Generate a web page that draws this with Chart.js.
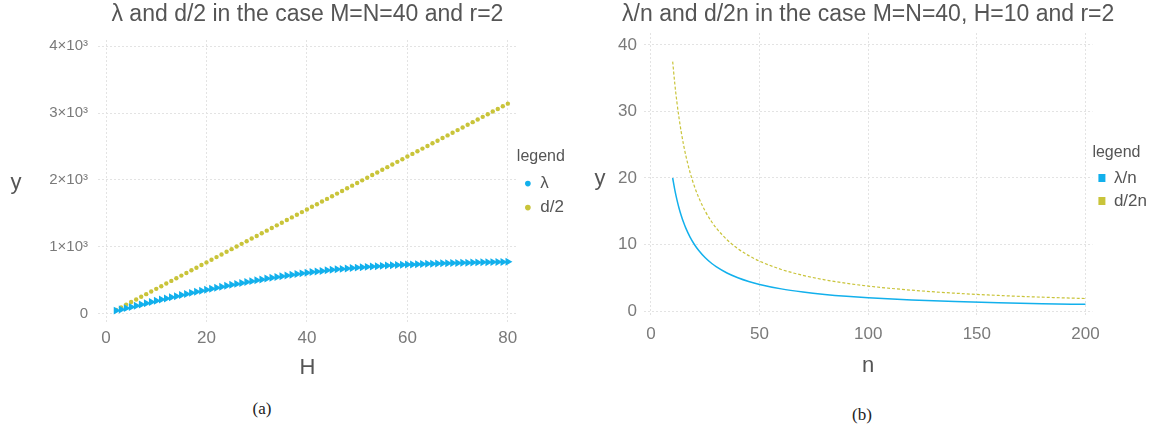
<!DOCTYPE html>
<html><head><meta charset="utf-8">
<script src="https://cdn.jsdelivr.net/npm/chart.js@4.4.1/dist/chart.umd.min.js"></script>
<style>
html,body{margin:0;padding:0;background:#fff;width:1157px;height:434px;overflow:hidden;}
.box{position:absolute;top:0;height:390px;}
#wa{left:0;width:580px;}
#wb{left:580px;width:577px;}
.cap{position:absolute;font-family:"Liberation Serif","DejaVu Serif",serif;font-size:17px;color:#222;transform:translate(-50%,-50%);}
</style></head><body>
<div class="box" id="wa"><canvas id="ca" width="580" height="390"></canvas></div>
<div class="box" id="wb"><canvas id="cb" width="577" height="390"></canvas></div>
<div class="cap" style="left:262px;top:409px">(a)</div>
<div class="cap" style="left:862px;top:415px">(b)</div>
<script>
// ---- data (left panel) ----
const H = [2,3,4,5,6,7,8,9,10,11,12,13,14,15,16,17,18,19,20,21,22,23,24,25,26,27,28,29,30,31,32,33,34,35,36,37,38,39,40,41,42,43,44,45,46,47,48,49,50,51,52,53,54,55,56,57,58,59,60,61,62,63,64,65,66,67,68,69,70,71,72,73,74,75,76,77,78,79,80];
const lambdaH = [50,68,87,105,124,142,161,180,198,
  215,232,249,266,283,299,315,331,347,362,
  377,392,407,421,435,449,463,477,490,503,
  516,529,541,553,564,575,586,596,606,616,
  625,634,643,651,659,666,673,680,686,692,
  698,703,708,713,718,722,726,730,734,737,
  740,743,746,749,751,754,756,758,760,762,
  764,766,768,770,771,773,774,776,777,778];
const dHalf = [59,98.5,138,177.5,217,256.5,296,335.5,375,
  414.5,454,493.5,533,572.5,612,651.5,691,730.5,770,
  809.5,849,888.5,928,967.5,1007,1046.5,1086,1125.5,1165,
  1204.5,1244,1283.5,1323,1362.5,1402,1441.5,1481,1520.5,1560,
  1599.5,1639,1678.5,1718,1757.5,1797,1836.5,1876,1915.5,1955,
  1994.5,2034,2073.5,2113,2152.5,2192,2231.5,2271,2310.5,2350,
  2389.5,2429,2468.5,2508,2547.5,2587,2626.5,2666,2705.5,2745,
  2784.5,2824,2863.5,2903,2942.5,2982,3021.5,3061,3100.5,3140];
const seriesNamesA = ['λ','d/2'];
const xTicksA = [0,20,40,60,80];
const yTicksA = [0,1000,2000,3000,4000];
const yTickLabelsA = ['0','1×10³','2×10³','3×10³','4×10³'];
const titleA = 'λ and d/2 in the case M=N=40 and r=2';

// ---- data (right panel) ----
const nVals = [10,11,12,13,14,15,16,18,20,22,25,28,30,35,40,45,50,60,70,80,90,100,120,140,160,180,200];
const lambdaN = [20,18.18,16.67,15.38,14.29,13.33,12.5,11.11,10,9.09,8,7.14,6.67,5.71,5,4.44,4,3.33,2.86,2.5,2.22,2,1.67,1.43,1.25,1.11,1];
const dHalfN = [37.5,34.09,31.25,28.85,26.79,25,23.44,20.83,18.75,17.05,15,13.39,12.5,10.71,9.38,8.33,7.5,6.25,5.36,4.69,4.17,3.75,3.13,2.68,2.34,2.08,1.88];
const seriesNamesB = ['λ/n','d/2n'];
const xTicksB = [0,50,100,150,200];
const yTicksB = [0,10,20,30,40];
const titleB = 'λ/n and d/2n in the case M=N=40, H=10 and r=2';

const FAM = '"Liberation Sans", Arial, Helvetica, sans-serif';
Chart.defaults.font.family = FAM;
const BLUE = '#12b0ec';
const YEL = '#c9c43a';
const GRID = '#e3e3e3';
const TICK = '#7a7a7a';
const TXT = '#555555';

const textPlugin = {
  id: 'textPlugin',
  afterDraw(chart, args, o) {
    const {ctx, chartArea} = chart;
    ctx.save();
    ctx.fillStyle = TXT;
    ctx.textAlign = 'center';
    ctx.textBaseline = 'middle';
    ctx.font = '23px ' + FAM;
    ctx.fillText(o.title, (chartArea.left + chartArea.right) / 2, o.titleY);
    ctx.font = '22px ' + FAM;
    ctx.fillText('y', o.yX, o.yY);
    ctx.restore();
  }
};

function pts(xs, ys) { return xs.map((x, i) => ({x: x, y: ys[i]})); }

new Chart(document.getElementById('ca'), {
  type: 'line',
  data: {
    datasets: [
      {label: seriesNamesA[0], data: pts(H, lambdaH), showLine: false,
       backgroundColor: BLUE, borderColor: BLUE, pointStyle: 'triangle', pointRotation: 90,
       pointRadius: 4.6, pointBorderWidth: 0, pointHoverRadius: 4.6},
      {label: seriesNamesA[1], data: pts(H, dHalf), showLine: false,
       backgroundColor: YEL, borderColor: YEL, pointStyle: 'circle',
       pointRadius: 2.2, pointBorderWidth: 0}
    ]
  },
  options: {
    responsive: false, animation: false,
    layout: {padding: {top: 40, right: 6, left: 0, bottom: 0}},
    plugins: {
      tooltip: {enabled: false},
      textPlugin: {title: titleA, titleY: 15, yX: 16, yY: 183},
      legend: {
        position: 'right', align: 'center', fullSize: false,
        title: {display: true, text: 'legend', position: 'start', color: TXT,
                font: {size: 16}, padding: {top: 10, bottom: 0}},
        labels: {usePointStyle: true, pointStyle: 'circle', boxWidth: 8, boxHeight: 4,
                 padding: 7, color: TXT, font: {size: 17}}
      }
    },
    scales: {
      x: {type: 'linear', min: -1.6, max: 81.8,
          afterFit: s => { s.height = 68; },
          afterBuildTicks: s => { s.ticks = xTicksA.map(v => ({value: v})); },
          grid: {color: GRID, drawTicks: false},
          border: {display: false, dash: [2, 2]},
          ticks: {color: TICK, font: {size: 17}, padding: 6},
          title: {display: true, text: 'H', color: TXT, font: {size: 22}, padding: {top: 0, bottom: 9}}},
      y: {type: 'linear', min: -120, max: 4090,
          afterFit: s => { s.width = 98; },
          afterBuildTicks: s => { s.ticks = yTicksA.map(v => ({value: v})); },
          grid: {color: GRID, drawTicks: false},
          border: {display: false, dash: [2, 2]},
          ticks: {color: TICK, font: {size: 15}, padding: 10,
                  callback: (v) => yTickLabelsA[yTicksA.indexOf(v)]}}
    }
  },
  plugins: [textPlugin]
});

new Chart(document.getElementById('cb'), {
  type: 'line',
  data: {
    datasets: [
      {label: seriesNamesB[0], data: pts(nVals, lambdaN), borderColor: BLUE, backgroundColor: BLUE,
       borderWidth: 1.5, pointRadius: 0, cubicInterpolationMode: 'monotone'},
      {label: seriesNamesB[1], data: pts(nVals, dHalfN), borderColor: YEL, backgroundColor: YEL,
       borderWidth: 1.2, borderDash: [3, 2], pointRadius: 0, cubicInterpolationMode: 'monotone'}
    ]
  },
  options: {
    responsive: false, animation: false,
    layout: {padding: {top: 33, right: 0, left: 0, bottom: 0}},
    plugins: {
      tooltip: {enabled: false},
      textPlugin: {title: titleB, titleY: 15, yX: 20, yY: 179},
      legend: {
        position: 'right', align: 'center', fullSize: false,
        title: {display: true, text: 'legend', position: 'start', color: TXT,
                font: {size: 16}, padding: {top: 10, bottom: 0}},
        labels: {boxWidth: 7, boxHeight: 8, padding: 6, color: TXT, font: {size: 17},
                 generateLabels: (chart) => Chart.defaults.plugins.legend.labels.generateLabels(chart)
                   .map(l => Object.assign(l, {lineDash: [], lineWidth: 0, strokeStyle: 'rgba(0,0,0,0)'}))}
      }
    },
    scales: {
      x: {type: 'linear', min: -3.2, max: 203.2,
          afterFit: s => { s.height = 73; },
          afterBuildTicks: s => { s.ticks = xTicksB.map(v => ({value: v})); },
          grid: {color: GRID, drawTicks: false},
          border: {display: false, dash: [2, 2]},
          ticks: {color: TICK, font: {size: 17}, padding: 7},
          title: {display: true, text: 'n', color: TXT, font: {size: 22}, padding: {top: 0, bottom: 11}}},
      y: {type: 'linear', min: -0.9, max: 41.8,
          afterFit: s => { s.width = 64; },
          afterBuildTicks: s => { s.ticks = yTicksB.map(v => ({value: v})); },
          grid: {color: GRID, drawTicks: false},
          border: {display: false, dash: [2, 2]},
          ticks: {color: TICK, font: {size: 17}, padding: 7}}
    }
  },
  plugins: [textPlugin]
});
</script>
</body></html>
